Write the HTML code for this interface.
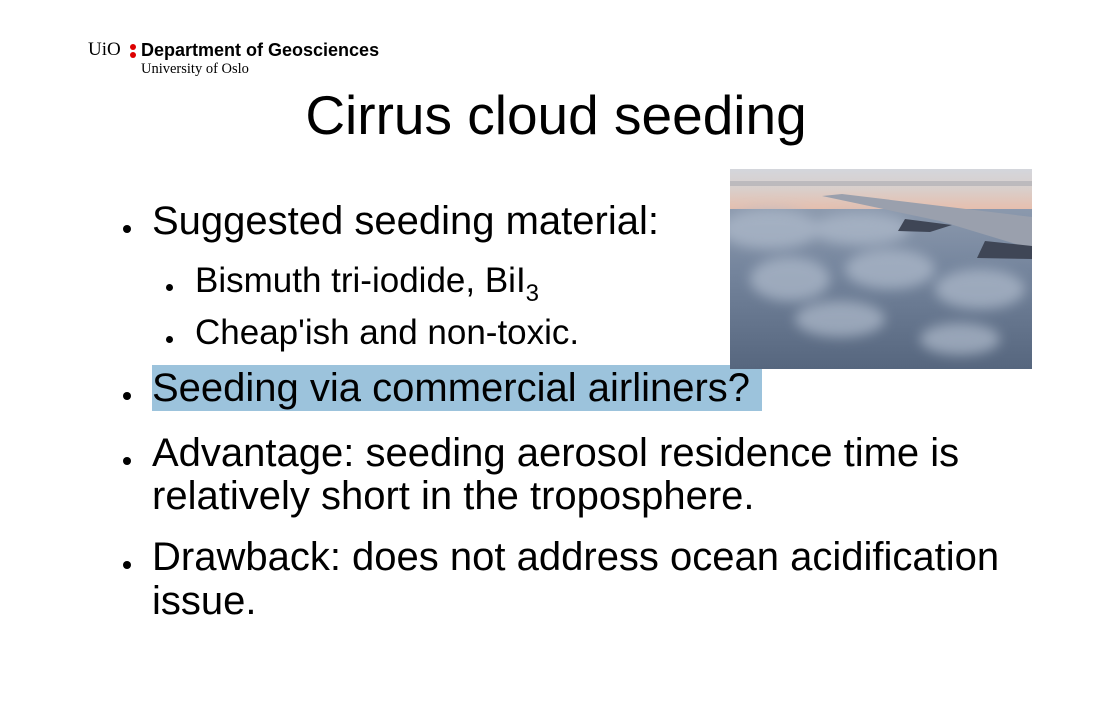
<!DOCTYPE html>
<html><head><meta charset="utf-8">
<style>
html,body{margin:0;padding:0;background:#fff;}
body{width:1114px;height:712px;position:relative;overflow:hidden;font-family:"Liberation Sans",sans-serif;color:#000;}
.t{position:absolute;white-space:nowrap;line-height:normal;}
.m{font-size:40px;}
.s{font-size:35px;}
.dot{position:absolute;border-radius:50%;background:#000;}
</style></head>
<body>
<div class="t" style="left:88px;top:39px;font-family:'Liberation Serif',serif;font-size:19px;">UiO</div>
<div style="position:absolute;left:130px;top:44px;width:6px;height:14px;">
 <div style="position:absolute;left:0;top:0;width:6px;height:6px;border-radius:50%;background:#dd0000"></div>
 <div style="position:absolute;left:0;top:8px;width:6px;height:6px;border-radius:50%;background:#dd0000"></div>
</div>
<div class="t" style="left:141px;top:40px;font-size:18px;font-weight:bold;">Department of Geosciences</div>
<div class="t" style="left:141px;top:61px;font-family:'Liberation Serif',serif;font-size:14.5px;">University of Oslo</div>

<div class="t" style="left:0;width:1112px;text-align:center;top:83px;font-size:55px;">Cirrus cloud seeding</div>

<div class="dot" style="left:123px;top:225px;width:8px;height:8px;"></div>
<div class="t m" style="left:152px;top:199px;">Suggested seeding material:</div>

<div class="dot" style="left:166px;top:284px;width:7px;height:7px;"></div>
<div class="t s" style="left:195px;top:261px;">Bismuth tri-iodide, BiI<sub style="font-size:24px;vertical-align:-9px;">3</sub></div>
<div class="dot" style="left:166px;top:336px;width:7px;height:7px;"></div>
<div class="t s" style="left:195px;top:313px;">Cheap'ish and non-toxic.</div>

<div style="position:absolute;left:152px;top:365px;width:610px;height:46px;background:#9cc3dc;"></div>
<div class="dot" style="left:123px;top:392px;width:8px;height:8px;"></div>
<div class="t m" style="left:152px;top:366px;">Seeding via commercial airliners?</div>

<div class="dot" style="left:123px;top:457px;width:8px;height:8px;"></div>
<div class="t m" style="left:152px;top:431px;">Advantage: seeding aerosol residence time is</div>
<div class="t m" style="left:152px;top:474px;">relatively short in the troposphere.</div>

<div class="dot" style="left:123px;top:561px;width:8px;height:8px;"></div>
<div class="t m" style="left:152px;top:535px;">Drawback: does not address ocean acidification</div>
<div class="t m" style="left:152px;top:579px;">issue.</div>

<svg style="position:absolute;left:730px;top:169px;" width="302" height="200" viewBox="0 0 302 200">
 <defs>
  <linearGradient id="sky" x1="0" y1="0" x2="0" y2="1">
   <stop offset="0" stop-color="#d4d6dc"/><stop offset="0.5" stop-color="#d9cfcb"/><stop offset="1" stop-color="#e6bfae"/>
  </linearGradient>
  <linearGradient id="cl" x1="0" y1="0" x2="0" y2="1">
   <stop offset="0" stop-color="#9aa6b8"/><stop offset="0.5" stop-color="#75859d"/><stop offset="1" stop-color="#56667e"/>
  </linearGradient>
  <filter id="b"><feGaussianBlur stdDeviation="6"/></filter>
 </defs>
 <rect width="302" height="200" fill="url(#cl)"/>
 <rect width="302" height="40" fill="url(#sky)"/>
 <rect y="12" width="302" height="5" fill="#8a8f9c" opacity="0.35"/>
 <g filter="url(#b)" fill="#b0bccc" opacity="0.7">
  <ellipse cx="40" cy="60" rx="50" ry="20"/><ellipse cx="130" cy="60" rx="50" ry="16"/>
  <ellipse cx="160" cy="100" rx="45" ry="20"/><ellipse cx="60" cy="110" rx="40" ry="22"/>
  <ellipse cx="250" cy="120" rx="45" ry="20"/><ellipse cx="110" cy="150" rx="45" ry="18"/>
  <ellipse cx="230" cy="170" rx="40" ry="16"/>
 </g>
 <path d="M92 27 L112 25 L302 48 L302 80 L210 52 Z" fill="#9aa0ad"/>
 <path d="M175 50 L222 56 L200 63 L168 62 Z" fill="#3f4656"/>
 <path d="M255 72 L302 77 L302 90 L247 89 Z" fill="#3f4656"/>
</svg>
</body></html>
